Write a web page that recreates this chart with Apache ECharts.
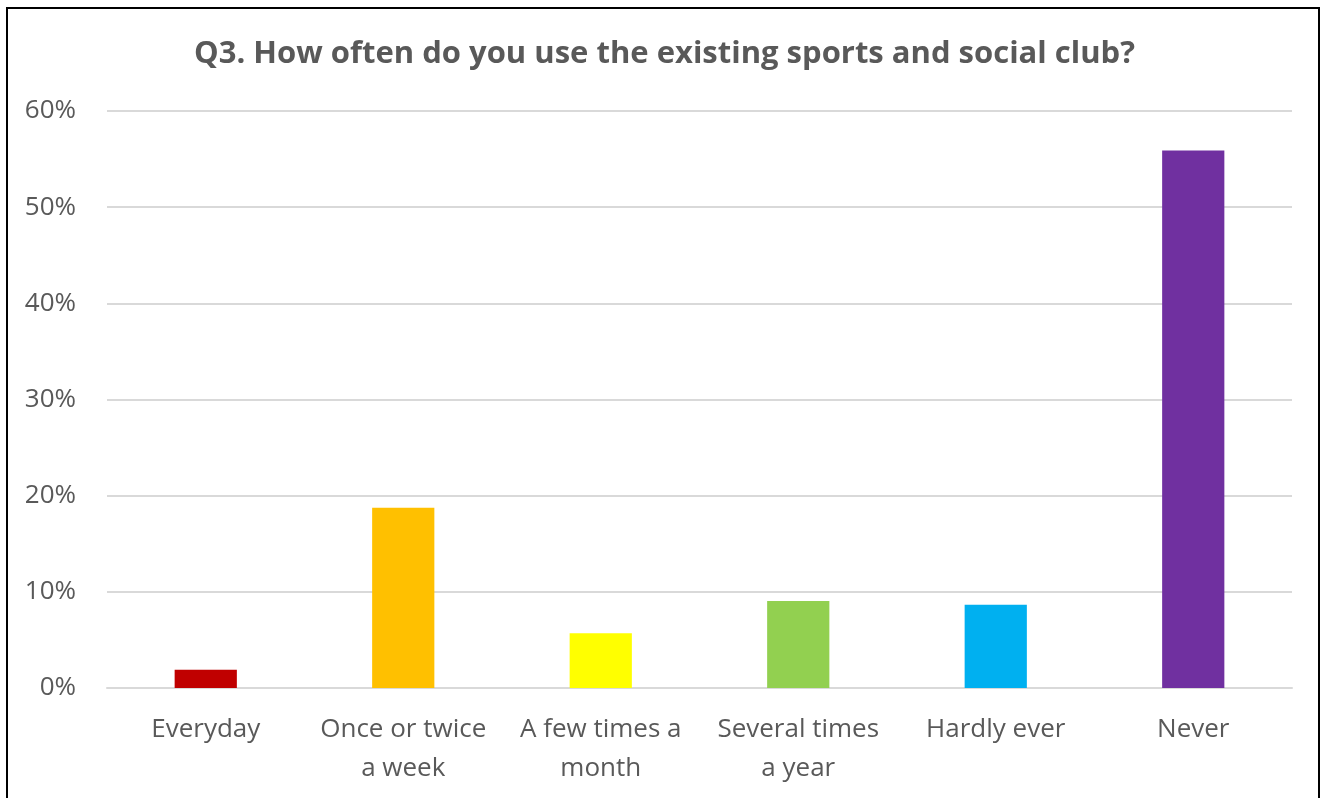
<!DOCTYPE html>
<html><head><meta charset="utf-8">
<script src="https://cdn.jsdelivr.net/npm/echarts@6/dist/echarts.min.js"></script>
<style>html,body{margin:0;padding:0;background:#fff}#frame{position:absolute;left:6px;top:7px;width:1314px;height:800px;border:2px solid #000;box-sizing:border-box;border-bottom:none}#c{position:absolute;left:0;top:0;width:1329px;height:798px}</style>
</head><body><div id="c"></div><div id="frame"></div>
<script>
const categories = ['Everyday', 'Once or twice\na week', 'A few times a\nmonth', 'Several times\na year', 'Hardly ever', 'Never'];
const values = [1.9, 18.75, 5.7, 9.05, 8.65, 55.9];
const colors = ['#C00000', '#FFC000', '#FFFF00', '#92D050', '#00B0F0', '#7030A0'];
const yTicks = [0, 10, 20, 30, 40, 50, 60];
const titleText = 'Q3. How often do you use the existing sports and social club?';
const font = '"Open Sans", "Liberation Sans", sans-serif';
const chart = echarts.init(document.getElementById('c'), null, {renderer: 'canvas'});
chart.setOption({
  animation: false,
  title: {text: titleText, left: 'center', top: 34, textStyle: {fontFamily: font, fontSize: 31, fontWeight: 'bold', color: '#595959'}},
  grid: {left: 107, right: 37, top: 111, bottom: 110},
  xAxis: {type: 'category', data: categories,
    axisLine: {lineStyle: {color: '#D9D9D9', width: 2}}, axisTick: {show: false},
    axisLabel: {fontFamily: font, fontSize: 26, color: '#595959', margin: 22, lineHeight: 39, interval: 0}},
  yAxis: {type: 'value', min: yTicks[0], max: yTicks[yTicks.length-1], interval: 10,
    axisLine: {show: false}, axisTick: {show: false},
    splitLine: {lineStyle: {color: '#D9D9D9', width: 2}},
    axisLabel: {fontFamily: font, fontSize: 26, color: '#595959', margin: 31, padding: [8, 0, 0, 0], formatter: v => v + '%'}},
  series: [{type: 'bar', barWidth: '31.5%',
    data: values.map((v, i) => ({value: v, itemStyle: {color: colors[i]}}))}]
});
</script></body></html>
